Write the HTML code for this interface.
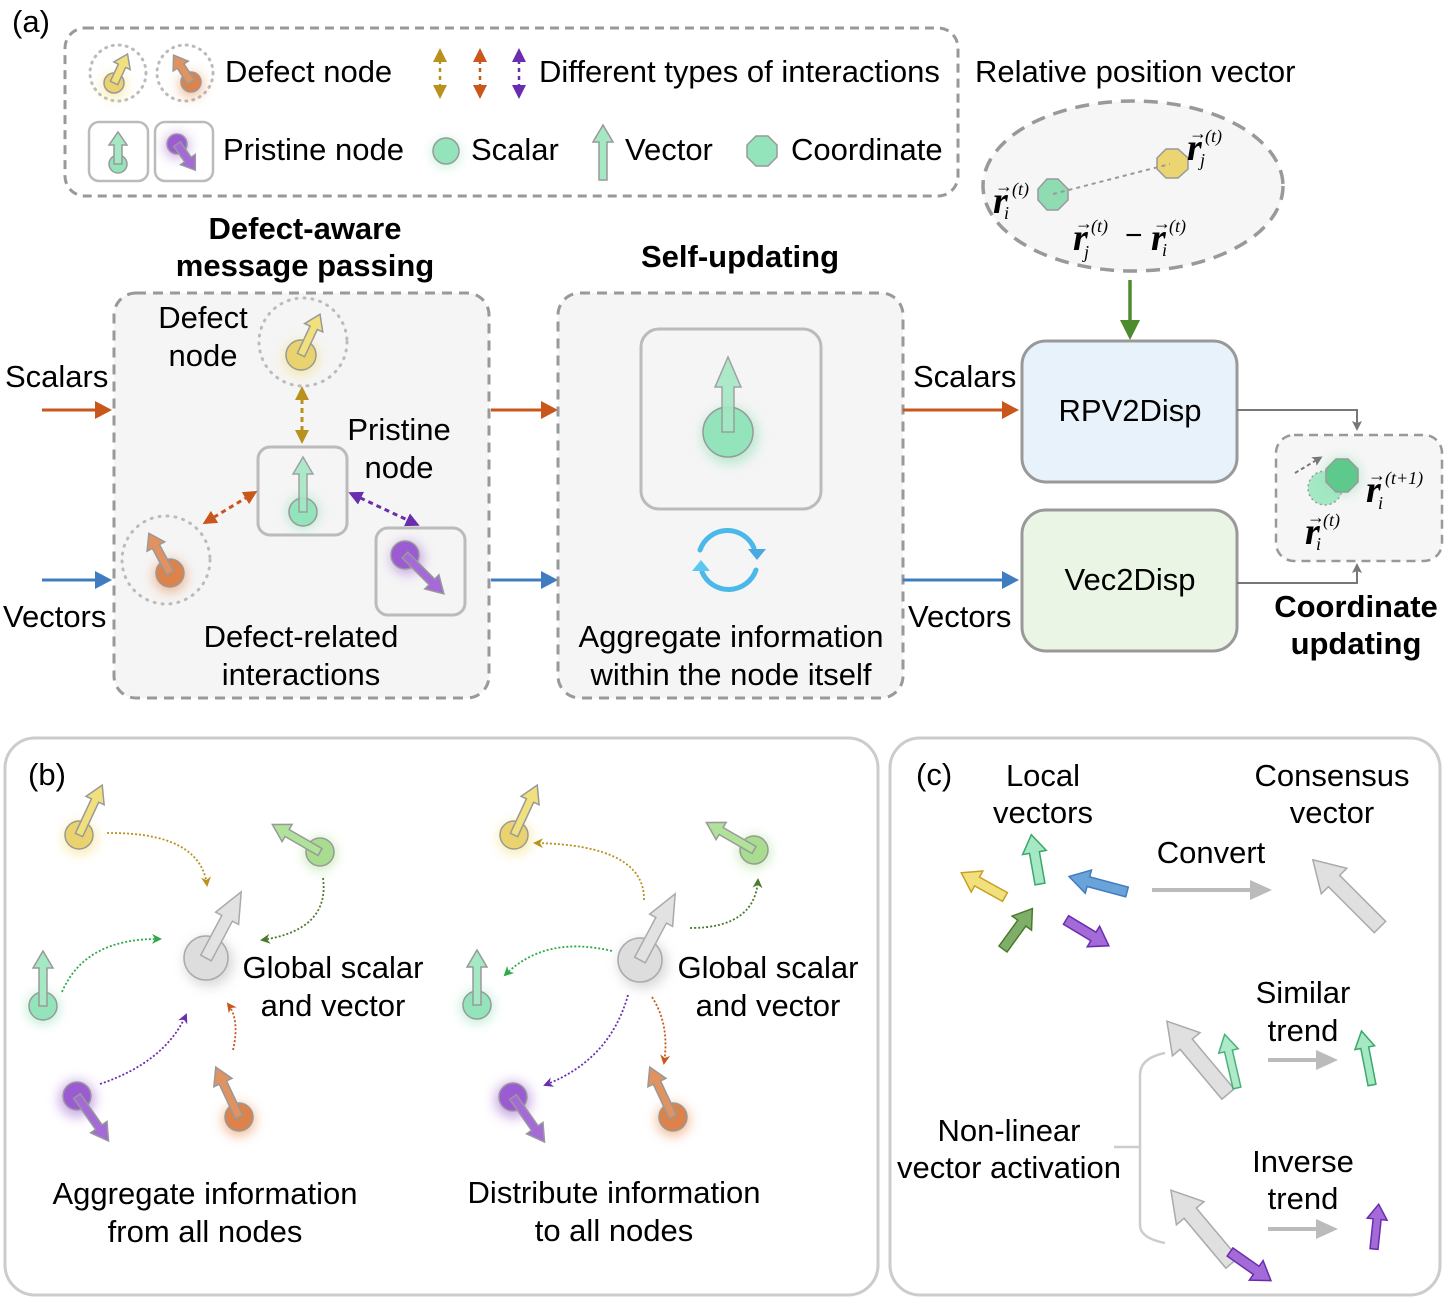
<!DOCTYPE html>
<html><head><meta charset="utf-8"><style>
html,body{margin:0;padding:0;background:#fff}
svg{display:block}
text{font-family:"Liberation Sans",sans-serif;fill:#000}
.t{font-size:31px}
.b{font-size:31px;font-weight:bold}
.m{font-family:"Liberation Serif",serif;font-style:italic;font-weight:bold}
.ms{font-family:"Liberation Serif",serif;font-style:italic;font-size:18px}
.ar{font-size:18px;font-family:"Liberation Serif",serif}
</style></head><body>
<svg width="1448" height="1302" viewBox="0 0 1448 1302" xmlns="http://www.w3.org/2000/svg">
<defs>
<filter id="gl" x="-100%" y="-100%" width="300%" height="300%"><feGaussianBlur stdDeviation="6"/></filter>
<path id="s30" d="M-4,0 L4,0 L4,-19 L9,-19 L0,-32 L-9,-19 L-4,-19Z"/>
<path id="s45" d="M-4,0 L4,0 L4,-30 L10,-30 L0,-45 L-10,-30 L-4,-30Z"/>
<path id="s55" d="M-4,0 L4,0 L4,-38 L10,-38 L0,-55 L-10,-38 L-4,-38Z"/>
<path id="s50c" d="M-5,0 L5,0 L5,-32 L12,-32 L0,-50 L-12,-32 L-5,-32Z"/>
<path id="s60c" d="M-5,0 L5,0 L5,-40 L12,-40 L0,-60 L-12,-40 L-5,-40Z"/>
<path id="s75" d="M-6,0 L6,0 L6,-45 L13,-45 L0,-75 L-13,-45 L-6,-45Z"/>
<path id="s95" d="M-8,0 L8,0 L8,-65 L18,-65 L0,-95 L-18,-65 L-8,-65Z"/>
<marker id="my" markerWidth="10" markerHeight="10" refX="8" refY="5" orient="auto" markerUnits="userSpaceOnUse"><path d="M0,0 L10,5 L0,10 L3,5Z" fill="#b8921d"/></marker>
<marker id="mo" markerWidth="10" markerHeight="10" refX="8" refY="5" orient="auto" markerUnits="userSpaceOnUse"><path d="M0,0 L10,5 L0,10 L3,5Z" fill="#c9561b"/></marker>
<marker id="mp" markerWidth="10" markerHeight="10" refX="8" refY="5" orient="auto" markerUnits="userSpaceOnUse"><path d="M0,0 L10,5 L0,10 L3,5Z" fill="#6a2db0"/></marker>
<marker id="mg" markerWidth="10" markerHeight="10" refX="8" refY="5" orient="auto" markerUnits="userSpaceOnUse"><path d="M0,0 L10,5 L0,10 L3,5Z" fill="#2eaa4a"/></marker>
<marker id="mdg" markerWidth="10" markerHeight="10" refX="8" refY="5" orient="auto" markerUnits="userSpaceOnUse"><path d="M0,0 L10,5 L0,10 L3,5Z" fill="#4a7a2a"/></marker>
<marker id="Ay" markerWidth="14" markerHeight="14" refX="10" refY="7" orient="auto-start-reverse" markerUnits="userSpaceOnUse"><path d="M0,0 L14,7 L0,14 Z" fill="#b8921d"/></marker>
<marker id="Ao" markerWidth="14" markerHeight="14" refX="10" refY="7" orient="auto-start-reverse" markerUnits="userSpaceOnUse"><path d="M0,0 L14,7 L0,14 Z" fill="#c9561b"/></marker>
<marker id="Ap" markerWidth="14" markerHeight="14" refX="10" refY="7" orient="auto-start-reverse" markerUnits="userSpaceOnUse"><path d="M0,0 L14,7 L0,14 Z" fill="#6a2db0"/></marker>
<marker id="Ag" markerWidth="10" markerHeight="10" refX="7" refY="5" orient="auto" markerUnits="userSpaceOnUse"><path d="M0,0 L10,5 L0,10 L2,5Z" fill="#777"/></marker>
</defs>

<!-- (a) -->
<text x="12" y="32" class="t">(a)</text>
<rect x="65" y="28" width="893" height="168" rx="20" fill="none" stroke="#999" stroke-width="3" stroke-dasharray="9,6"/>
<circle cx="118" cy="73" r="28" fill="none" stroke="#bbb" stroke-width="3" stroke-dasharray="1,6" stroke-linecap="round"/>
<circle cx="185" cy="73" r="28" fill="none" stroke="#bbb" stroke-width="3" stroke-dasharray="1,6" stroke-linecap="round"/>
<circle cx="114" cy="86" r="12" fill="#f1dc6f" filter="url(#gl)" opacity=".6"/>
<circle cx="114" cy="83" r="10" fill="#ead36f" stroke="#999" stroke-width="1.5"/>
<use href="#s30" transform="translate(114,83) rotate(25)" fill="#f1e07e" stroke="#999" stroke-width="1.5"/>
<circle cx="191" cy="85" r="12" fill="#e8874a" filter="url(#gl)" opacity=".6"/>
<circle cx="191" cy="82" r="10" fill="#db834a" stroke="#999" stroke-width="1.5"/>
<use href="#s30" transform="translate(191,82) rotate(-33)" fill="#e09361" stroke="#999" stroke-width="1.5"/>
<rect x="89" y="122" width="59" height="59" rx="10" fill="none" stroke="#bbb" stroke-width="2.5"/>
<rect x="155" y="122" width="58" height="59" rx="10" fill="none" stroke="#bbb" stroke-width="2.5"/>
<circle cx="118" cy="164" r="9" fill="#93e3bb" stroke="#999" stroke-width="1.5"/>
<use href="#s30" transform="translate(118,164)" fill="#a4e8c4" stroke="#999" stroke-width="1.5"/>
<circle cx="177" cy="146" r="12" fill="#a56bd6" filter="url(#gl)" opacity=".6"/>
<circle cx="177" cy="144" r="10" fill="#9b5bd2" stroke="#999" stroke-width="1.5"/>
<use href="#s30" transform="translate(177,144) rotate(145)" fill="#a36ad8" stroke="#999" stroke-width="1.5"/>
<text x="225" y="82" class="t">Defect node</text>
<text x="223" y="160" class="t">Pristine node</text>
<line x1="440" y1="52" x2="440" y2="95" stroke="#b8921d" stroke-width="2.5" stroke-dasharray="4,4" marker-start="url(#Ay)" marker-end="url(#Ay)"/>
<line x1="480" y1="52" x2="480" y2="95" stroke="#c9561b" stroke-width="2.5" stroke-dasharray="4,4" marker-start="url(#Ao)" marker-end="url(#Ao)"/>
<line x1="519" y1="52" x2="519" y2="95" stroke="#6a2db0" stroke-width="2.5" stroke-dasharray="4,4" marker-start="url(#Ap)" marker-end="url(#Ap)"/>
<text x="539" y="82" class="t">Different types of interactions</text>
<circle cx="446" cy="153" r="14" fill="#8fe0b5" filter="url(#gl)" opacity=".5"/>
<circle cx="446" cy="151" r="13" fill="#93e3bb" stroke="#999" stroke-width="1.5"/>
<text x="471" y="160" class="t">Scalar</text>
<use href="#s55" transform="translate(603,180)" fill="#a4e8c4" stroke="#999" stroke-width="1.5"/>
<text x="625" y="160" class="t">Vector</text>
<polygon points="756,136 768,136 777,145 777,157 768,166 756,166 747,157 747,145" fill="#93e3bb" stroke="#999" stroke-width="1.5"/>
<text x="791" y="160" class="t">Coordinate</text>

<text x="975" y="82" class="t">Relative position vector</text>
<ellipse cx="1133" cy="186" rx="150" ry="85" fill="#f6f6f6" stroke="#999" stroke-width="3.5" stroke-dasharray="14,9"/>
<polygon points="1047,179 1058,179 1068,189 1068,200 1058,210 1047,210 1038,200 1038,189" fill="#8fdcb3" stroke="#999" stroke-width="1.5"/>
<polygon points="1166,149 1178,149 1188,158 1188,169 1178,178 1166,178 1157,169 1157,158" fill="#ebd472" stroke="#999" stroke-width="1.5"/>
<line x1="1053" y1="194" x2="1170" y2="164" stroke="#999" stroke-width="2" stroke-dasharray="4,4"/>
<text x="993" y="213" class="m" font-size="38">r</text><text x="995" y="192" class="ar">→</text>
<text x="1012" y="195" class="ms">(t)</text><text x="1004" y="219" class="ms" font-size="14">i</text>
<text x="1187" y="160" class="m" font-size="38">r</text><text x="1189" y="139" class="ar">→</text>
<text x="1205" y="142" class="ms">(t)</text><text x="1200" y="166" class="ms" font-size="14">j</text>
<text x="1073" y="250" class="m" font-size="38">r</text><text x="1075" y="229" class="ar">→</text>
<text x="1091" y="232" class="ms">(t)</text><text x="1084" y="258" class="ms" font-size="14">j</text>
<text x="1125" y="245" font-size="30" font-family="Liberation Serif">−</text>
<text x="1151" y="250" class="m" font-size="38">r</text><text x="1153" y="229" class="ar">→</text>
<text x="1169" y="232" class="ms">(t)</text><text x="1162" y="256" class="ms" font-size="14">i</text>
<line x1="1130" y1="280" x2="1130" y2="325" stroke="#4e8a2e" stroke-width="3.5"/>
<polygon points="1120,320 1140,320 1130,340" fill="#4e8a2e"/>

<rect x="1022" y="341" width="215" height="141" rx="24" fill="#e8f2fa" stroke="#999" stroke-width="3"/>
<text x="1130" y="421" class="t" text-anchor="middle">RPV2Disp</text>
<rect x="1022" y="510" width="215" height="141" rx="24" fill="#eaf5e5" stroke="#999" stroke-width="3"/>
<text x="1130" y="590" class="t" text-anchor="middle">Vec2Disp</text>
<polyline points="1237,410 1357,410 1357,428" fill="none" stroke="#777" stroke-width="2" marker-end="url(#Ag)"/>
<polyline points="1237,583 1357,583 1357,566" fill="none" stroke="#777" stroke-width="2" marker-end="url(#Ag)"/>
<rect x="1276" y="435" width="166" height="126" rx="18" fill="#f6f6f6" stroke="#999" stroke-width="2.5" stroke-dasharray="9,6"/>
<circle cx="1325" cy="488" r="17" fill="#a4e8c4" stroke="#999" stroke-width="1.5" stroke-dasharray="2,3"/>
<circle cx="1342" cy="476" r="18" fill="#8fe0b5" filter="url(#gl)" opacity=".6"/>
<polygon points="1336,459 1348,459 1358,469 1358,482 1348,492 1336,492 1326,482 1326,469" fill="#5ec98d" stroke="#999" stroke-width="1.5"/>
<line x1="1295" y1="473" x2="1320" y2="458" stroke="#777" stroke-width="2" stroke-dasharray="4,3" marker-end="url(#Ag)"/>
<text x="1366" y="502" class="m" font-size="38">r</text><text x="1368" y="481" class="ar">→</text>
<text x="1385" y="484" class="ms">(t+1)</text><text x="1378" y="509" class="ms" font-size="14">i</text>
<text x="1305" y="544" class="m" font-size="38">r</text><text x="1307" y="523" class="ar">→</text>
<text x="1323" y="526" class="ms">(t)</text><text x="1316" y="550" class="ms" font-size="14">i</text>
<text x="1356" y="617" class="b" text-anchor="middle">Coordinate</text>
<text x="1356" y="654" class="b" text-anchor="middle">updating</text>

<!-- Defect-aware -->
<text x="305" y="239" class="b" text-anchor="middle">Defect-aware</text>
<text x="305" y="276" class="b" text-anchor="middle">message passing</text>
<rect x="114" y="293" width="375" height="405" rx="22" fill="#f5f5f5" stroke="#999" stroke-width="3" stroke-dasharray="10,7"/>
<text x="5" y="387" class="t">Scalars</text>
<text x="3" y="627" class="t">Vectors</text>
<line x1="42" y1="410" x2="100" y2="410" stroke="#c9561b" stroke-width="3"/><polygon points="95,401 112,410 95,419" fill="#c9561b"/>
<line x1="42" y1="580" x2="100" y2="580" stroke="#3f7cc0" stroke-width="3"/><polygon points="95,571 112,580 95,589" fill="#3f7cc0"/>
<text x="203" y="328" class="t" text-anchor="middle">Defect</text>
<text x="203" y="366" class="t" text-anchor="middle">node</text>
<circle cx="303" cy="342" r="44" fill="none" stroke="#bbb" stroke-width="3" stroke-dasharray="1,7" stroke-linecap="round"/>
<circle cx="301" cy="358" r="17" fill="#f1dc6f" filter="url(#gl)" opacity=".6"/>
<circle cx="301" cy="355" r="15" fill="#ead36f" stroke="#999" stroke-width="1.5"/>
<use href="#s45" transform="translate(301,355) rotate(25)" fill="#f1e07e" stroke="#999" stroke-width="1.5"/>
<line x1="302" y1="390" x2="302" y2="440" stroke="#b8921d" stroke-width="3" stroke-dasharray="5,4" marker-start="url(#Ay)" marker-end="url(#Ay)"/>
<text x="399" y="440" class="t" text-anchor="middle">Pristine</text>
<text x="399" y="478" class="t" text-anchor="middle">node</text>
<rect x="258" y="447" width="89" height="88" rx="12" fill="none" stroke="#bbb" stroke-width="3"/>
<circle cx="303" cy="512" r="16" fill="#8fe0b5" filter="url(#gl)" opacity=".6"/>
<circle cx="303" cy="512" r="14" fill="#93e3bb" stroke="#999" stroke-width="1.5"/>
<use href="#s55" transform="translate(303,512)" fill="#a4e8c4" stroke="#999" stroke-width="1.5" opacity=".9"/>
<circle cx="166" cy="560" r="44" fill="none" stroke="#bbb" stroke-width="3" stroke-dasharray="1,7" stroke-linecap="round"/>
<circle cx="170" cy="576" r="16" fill="#e8874a" filter="url(#gl)" opacity=".6"/>
<circle cx="170" cy="573" r="14" fill="#db834a" stroke="#999" stroke-width="1.5"/>
<use href="#s45" transform="translate(170,573) rotate(-28)" fill="#e09361" stroke="#999" stroke-width="1.5"/>
<line x1="206" y1="522" x2="254" y2="493" stroke="#c9561b" stroke-width="3" stroke-dasharray="5,4" marker-start="url(#Ao)" marker-end="url(#Ao)"/>
<rect x="376" y="528" width="89" height="87" rx="12" fill="none" stroke="#bbb" stroke-width="3"/>
<circle cx="407" cy="558" r="16" fill="#a56bd6" filter="url(#gl)" opacity=".6"/>
<circle cx="405" cy="555" r="14" fill="#9b5bd2" stroke="#999" stroke-width="1.5"/>
<use href="#s55" transform="translate(405,555) rotate(135)" fill="#a36ad8" stroke="#999" stroke-width="1.5"/>
<line x1="352" y1="494" x2="416" y2="524" stroke="#6a2db0" stroke-width="3" stroke-dasharray="5,4" marker-start="url(#Ap)" marker-end="url(#Ap)"/>
<text x="301" y="647" class="t" text-anchor="middle">Defect-related</text>
<text x="301" y="685" class="t" text-anchor="middle">interactions</text>

<line x1="491" y1="410" x2="546" y2="410" stroke="#c9561b" stroke-width="3"/><polygon points="541,401 558,410 541,419" fill="#c9561b"/>
<line x1="491" y1="580" x2="546" y2="580" stroke="#3f7cc0" stroke-width="3"/><polygon points="541,571 558,580 541,589" fill="#3f7cc0"/>

<!-- Self-updating -->
<text x="740" y="267" class="b" text-anchor="middle">Self-updating</text>
<rect x="558" y="293" width="345" height="405" rx="22" fill="#f5f5f5" stroke="#999" stroke-width="3" stroke-dasharray="10,7"/>
<rect x="641" y="329" width="180" height="180" rx="18" fill="none" stroke="#bbb" stroke-width="3"/>
<circle cx="730" cy="436" r="28" fill="#8fe0b5" filter="url(#gl)" opacity=".6"/>
<circle cx="728" cy="432" r="25" fill="#93e3bb" stroke="#999" stroke-width="1.5"/>
<use href="#s75" transform="translate(728,432)" fill="#a4e8c4" stroke="#999" stroke-width="1.5" opacity=".9"/>
<path d="M700,550 A29,29 0 0 1 754,548" fill="none" stroke="#4ab8e8" stroke-width="5" stroke-linecap="round"/>
<path d="M756,570 A29,29 0 0 1 702,572" fill="none" stroke="#4ab8e8" stroke-width="5" stroke-linecap="round"/>
<polygon points="748,549 766,549 757,560" fill="#4aa8e0"/>
<polygon points="692,571 710,571 701,560" fill="#5ac8ee"/>
<text x="731" y="647" class="t" text-anchor="middle">Aggregate information</text>
<text x="731" y="685" class="t" text-anchor="middle">within the node itself</text>

<line x1="903" y1="410" x2="1006" y2="410" stroke="#c9561b" stroke-width="3"/><polygon points="1002,401 1019,410 1002,419" fill="#c9561b"/>
<line x1="903" y1="580" x2="1006" y2="580" stroke="#3f7cc0" stroke-width="3"/><polygon points="1002,571 1019,580 1002,589" fill="#3f7cc0"/>
<text x="913" y="387" class="t">Scalars</text>
<text x="908" y="627" class="t">Vectors</text>

<!-- (b) -->
<rect x="5" y="738" width="873" height="557" rx="30" fill="none" stroke="#ccc" stroke-width="3"/>
<text x="28" y="785" class="t">(b)</text>
<circle cx="80" cy="838" r="16" fill="#f1dc6f" filter="url(#gl)" opacity=".6"/>
<circle cx="79" cy="835" r="14" fill="#ead36f" stroke="#999" stroke-width="1.5"/>
<use href="#s55" transform="translate(79,835) rotate(25)" fill="#f1e07e" stroke="#999" stroke-width="1.5"/>
<circle cx="320" cy="854" r="16" fill="#a8dc8e" filter="url(#gl)" opacity=".6"/>
<circle cx="320" cy="852" r="14" fill="#a8dc8e" stroke="#999" stroke-width="1.5"/>
<use href="#s55" transform="translate(320,852) rotate(-60)" fill="#b0e29a" stroke="#999" stroke-width="1.5"/>
<circle cx="43" cy="1008" r="16" fill="#8fe0b5" filter="url(#gl)" opacity=".6"/>
<circle cx="43" cy="1006" r="14" fill="#93e3bb" stroke="#999" stroke-width="1.5"/>
<use href="#s55" transform="translate(43,1006)" fill="#a4e8c4" stroke="#999" stroke-width="1.5"/>
<circle cx="209" cy="962" r="24" fill="#bbb" filter="url(#gl)" opacity=".6"/>
<circle cx="206" cy="958" r="22" fill="#ddd" stroke="#aaa" stroke-width="1.5"/>
<use href="#s75" transform="translate(206,958) rotate(28)" fill="#e2e2e2" stroke="#aaa" stroke-width="1.5"/>
<circle cx="77" cy="1099" r="18" fill="#a56bd6" filter="url(#gl)" opacity=".6"/>
<circle cx="77" cy="1096" r="14" fill="#9b5bd2" stroke="#999" stroke-width="1.5"/>
<use href="#s55" transform="translate(77,1096) rotate(145)" fill="#a36ad8" stroke="#999" stroke-width="1.5"/>
<circle cx="239" cy="1120" r="16" fill="#e8874a" filter="url(#gl)" opacity=".6"/>
<circle cx="239" cy="1117" r="14" fill="#db834a" stroke="#999" stroke-width="1.5"/>
<use href="#s55" transform="translate(239,1117) rotate(-25)" fill="#e09361" stroke="#999" stroke-width="1.5"/>
<path d="M107,833 Q200,832 207,885" fill="none" stroke="#b8921d" stroke-width="1.8" stroke-dasharray="2,2" marker-end="url(#my)"/>
<path d="M323,878 Q330,930 262,940" fill="none" stroke="#4a7a2a" stroke-width="1.8" stroke-dasharray="2,2" marker-end="url(#mdg)"/>
<path d="M62,992 Q85,938 160,939" fill="none" stroke="#2eaa4a" stroke-width="1.8" stroke-dasharray="2,2" marker-end="url(#mg)"/>
<path d="M100,1084 Q165,1062 186,1015" fill="none" stroke="#6a2db0" stroke-width="1.8" stroke-dasharray="2,2" marker-end="url(#mp)"/>
<path d="M233,1050 Q240,1020 228,1004" fill="none" stroke="#c9561b" stroke-width="1.8" stroke-dasharray="2,2" marker-end="url(#mo)"/>
<text x="333" y="978" class="t" text-anchor="middle">Global scalar</text>
<text x="333" y="1016" class="t" text-anchor="middle">and vector</text>
<text x="205" y="1204" class="t" text-anchor="middle">Aggregate information</text>
<text x="205" y="1242" class="t" text-anchor="middle">from all nodes</text>
<circle cx="515" cy="838" r="16" fill="#f1dc6f" filter="url(#gl)" opacity=".6"/>
<circle cx="514" cy="835" r="14" fill="#ead36f" stroke="#999" stroke-width="1.5"/>
<use href="#s55" transform="translate(514,835) rotate(25)" fill="#f1e07e" stroke="#999" stroke-width="1.5"/>
<circle cx="754" cy="852" r="16" fill="#a8dc8e" filter="url(#gl)" opacity=".6"/>
<circle cx="754" cy="850" r="14" fill="#a8dc8e" stroke="#999" stroke-width="1.5"/>
<use href="#s55" transform="translate(754,850) rotate(-60)" fill="#b0e29a" stroke="#999" stroke-width="1.5"/>
<circle cx="477" cy="1007" r="16" fill="#8fe0b5" filter="url(#gl)" opacity=".6"/>
<circle cx="477" cy="1005" r="14" fill="#93e3bb" stroke="#999" stroke-width="1.5"/>
<use href="#s55" transform="translate(477,1005)" fill="#a4e8c4" stroke="#999" stroke-width="1.5"/>
<circle cx="643" cy="964" r="24" fill="#bbb" filter="url(#gl)" opacity=".6"/>
<circle cx="640" cy="960" r="22" fill="#ddd" stroke="#aaa" stroke-width="1.5"/>
<use href="#s75" transform="translate(640,960) rotate(28)" fill="#e2e2e2" stroke="#aaa" stroke-width="1.5"/>
<circle cx="513" cy="1100" r="18" fill="#a56bd6" filter="url(#gl)" opacity=".6"/>
<circle cx="513" cy="1097" r="14" fill="#9b5bd2" stroke="#999" stroke-width="1.5"/>
<use href="#s55" transform="translate(513,1097) rotate(145)" fill="#a36ad8" stroke="#999" stroke-width="1.5"/>
<circle cx="673" cy="1120" r="16" fill="#e8874a" filter="url(#gl)" opacity=".6"/>
<circle cx="673" cy="1117" r="14" fill="#db834a" stroke="#999" stroke-width="1.5"/>
<use href="#s55" transform="translate(673,1117) rotate(-25)" fill="#e09361" stroke="#999" stroke-width="1.5"/>
<path d="M644,900 Q645,845 535,843" fill="none" stroke="#b8921d" stroke-width="1.8" stroke-dasharray="2,2" marker-end="url(#my)"/>
<path d="M690,928 Q755,928 758,880" fill="none" stroke="#4a7a2a" stroke-width="1.8" stroke-dasharray="2,2" marker-end="url(#mdg)"/>
<path d="M612,951 Q545,935 505,975" fill="none" stroke="#2eaa4a" stroke-width="1.8" stroke-dasharray="2,2" marker-end="url(#mg)"/>
<path d="M628,995 Q610,1060 545,1085" fill="none" stroke="#6a2db0" stroke-width="1.8" stroke-dasharray="2,2" marker-end="url(#mp)"/>
<path d="M652,997 Q670,1025 664,1063" fill="none" stroke="#c9561b" stroke-width="1.8" stroke-dasharray="2,2" marker-end="url(#mo)"/>
<text x="768" y="978" class="t" text-anchor="middle">Global scalar</text>
<text x="768" y="1016" class="t" text-anchor="middle">and vector</text>
<text x="614" y="1203" class="t" text-anchor="middle">Distribute information</text>
<text x="614" y="1241" class="t" text-anchor="middle">to all nodes</text>

<!-- (c) -->
<rect x="890" y="738" width="550" height="557" rx="30" fill="none" stroke="#ccc" stroke-width="3"/>
<text x="916" y="785" class="t">(c)</text>
<text x="1043" y="786" class="t" text-anchor="middle">Local</text>
<text x="1043" y="823" class="t" text-anchor="middle">vectors</text>
<text x="1332" y="786" class="t" text-anchor="middle">Consensus</text>
<text x="1332" y="823" class="t" text-anchor="middle">vector</text>
<text x="1211" y="863" class="t" text-anchor="middle">Convert</text>
<use href="#s50c" transform="translate(1040,884) rotate(-10)" fill="#a4e8c4" stroke="#3aa86a" stroke-width="1.5"/>
<use href="#s50c" transform="translate(1005,897) rotate(-61)" fill="#f1e07e" stroke="#c9a020" stroke-width="1.5"/>
<use href="#s60c" transform="translate(1127,892) rotate(-75)" fill="#6aa3d8" stroke="#3f7cc0" stroke-width="1.5"/>
<use href="#s50c" transform="translate(1003,949) rotate(36)" fill="#7fae6a" stroke="#4a7a2a" stroke-width="1.5"/>
<use href="#s50c" transform="translate(1066,920) rotate(121)" fill="#a36ad8" stroke="#6a2db0" stroke-width="1.5"/>
<line x1="1152" y1="890" x2="1252" y2="890" stroke="#bbb" stroke-width="4"/><polygon points="1250,880 1272,890 1250,900" fill="#bbb"/>
<use href="#s95" transform="translate(1380,927) rotate(-45)" fill="#e0e0e0" stroke="#aaa" stroke-width="1.5"/>
<text x="1303" y="1003" class="t" text-anchor="middle">Similar</text>
<text x="1303" y="1041" class="t" text-anchor="middle">trend</text>
<use href="#s95" transform="translate(1228,1094) rotate(-40)" fill="#e0e0e0" stroke="#aaa" stroke-width="1.5"/>
<use href="#s55" transform="translate(1237,1088) rotate(-13)" fill="#a4e8c4" stroke="#3aa86a" stroke-width="1.5" opacity=".9"/>
<line x1="1268" y1="1060" x2="1318" y2="1060" stroke="#bbb" stroke-width="4"/><polygon points="1316,1050 1338,1060 1316,1070" fill="#bbb"/>
<use href="#s55" transform="translate(1372,1085) rotate(-11)" fill="#a4e8c4" stroke="#3aa86a" stroke-width="1.5"/>
<text x="1303" y="1172" class="t" text-anchor="middle">Inverse</text>
<text x="1303" y="1209" class="t" text-anchor="middle">trend</text>
<use href="#s95" transform="translate(1232,1263) rotate(-40)" fill="#e0e0e0" stroke="#aaa" stroke-width="1.5"/>
<use href="#s50c" transform="translate(1230,1252) rotate(125)" fill="#a36ad8" stroke="#6a2db0" stroke-width="1.5"/>
<line x1="1268" y1="1229" x2="1318" y2="1229" stroke="#bbb" stroke-width="4"/><polygon points="1316,1219 1338,1229 1316,1239" fill="#bbb"/>
<use href="#s45" transform="translate(1374,1249) rotate(6)" fill="#a36ad8" stroke="#6a2db0" stroke-width="1.5"/>
<path d="M1165,1053 Q1140,1058 1140,1075 L1140,1225 Q1140,1238 1165,1243" fill="none" stroke="#ccc" stroke-width="2.5"/>
<line x1="1114" y1="1147" x2="1140" y2="1147" stroke="#ccc" stroke-width="2.5"/>
<text x="1009" y="1141" class="t" text-anchor="middle">Non-linear</text>
<text x="1009" y="1178" class="t" text-anchor="middle">vector activation</text>
</svg>
</body></html>
